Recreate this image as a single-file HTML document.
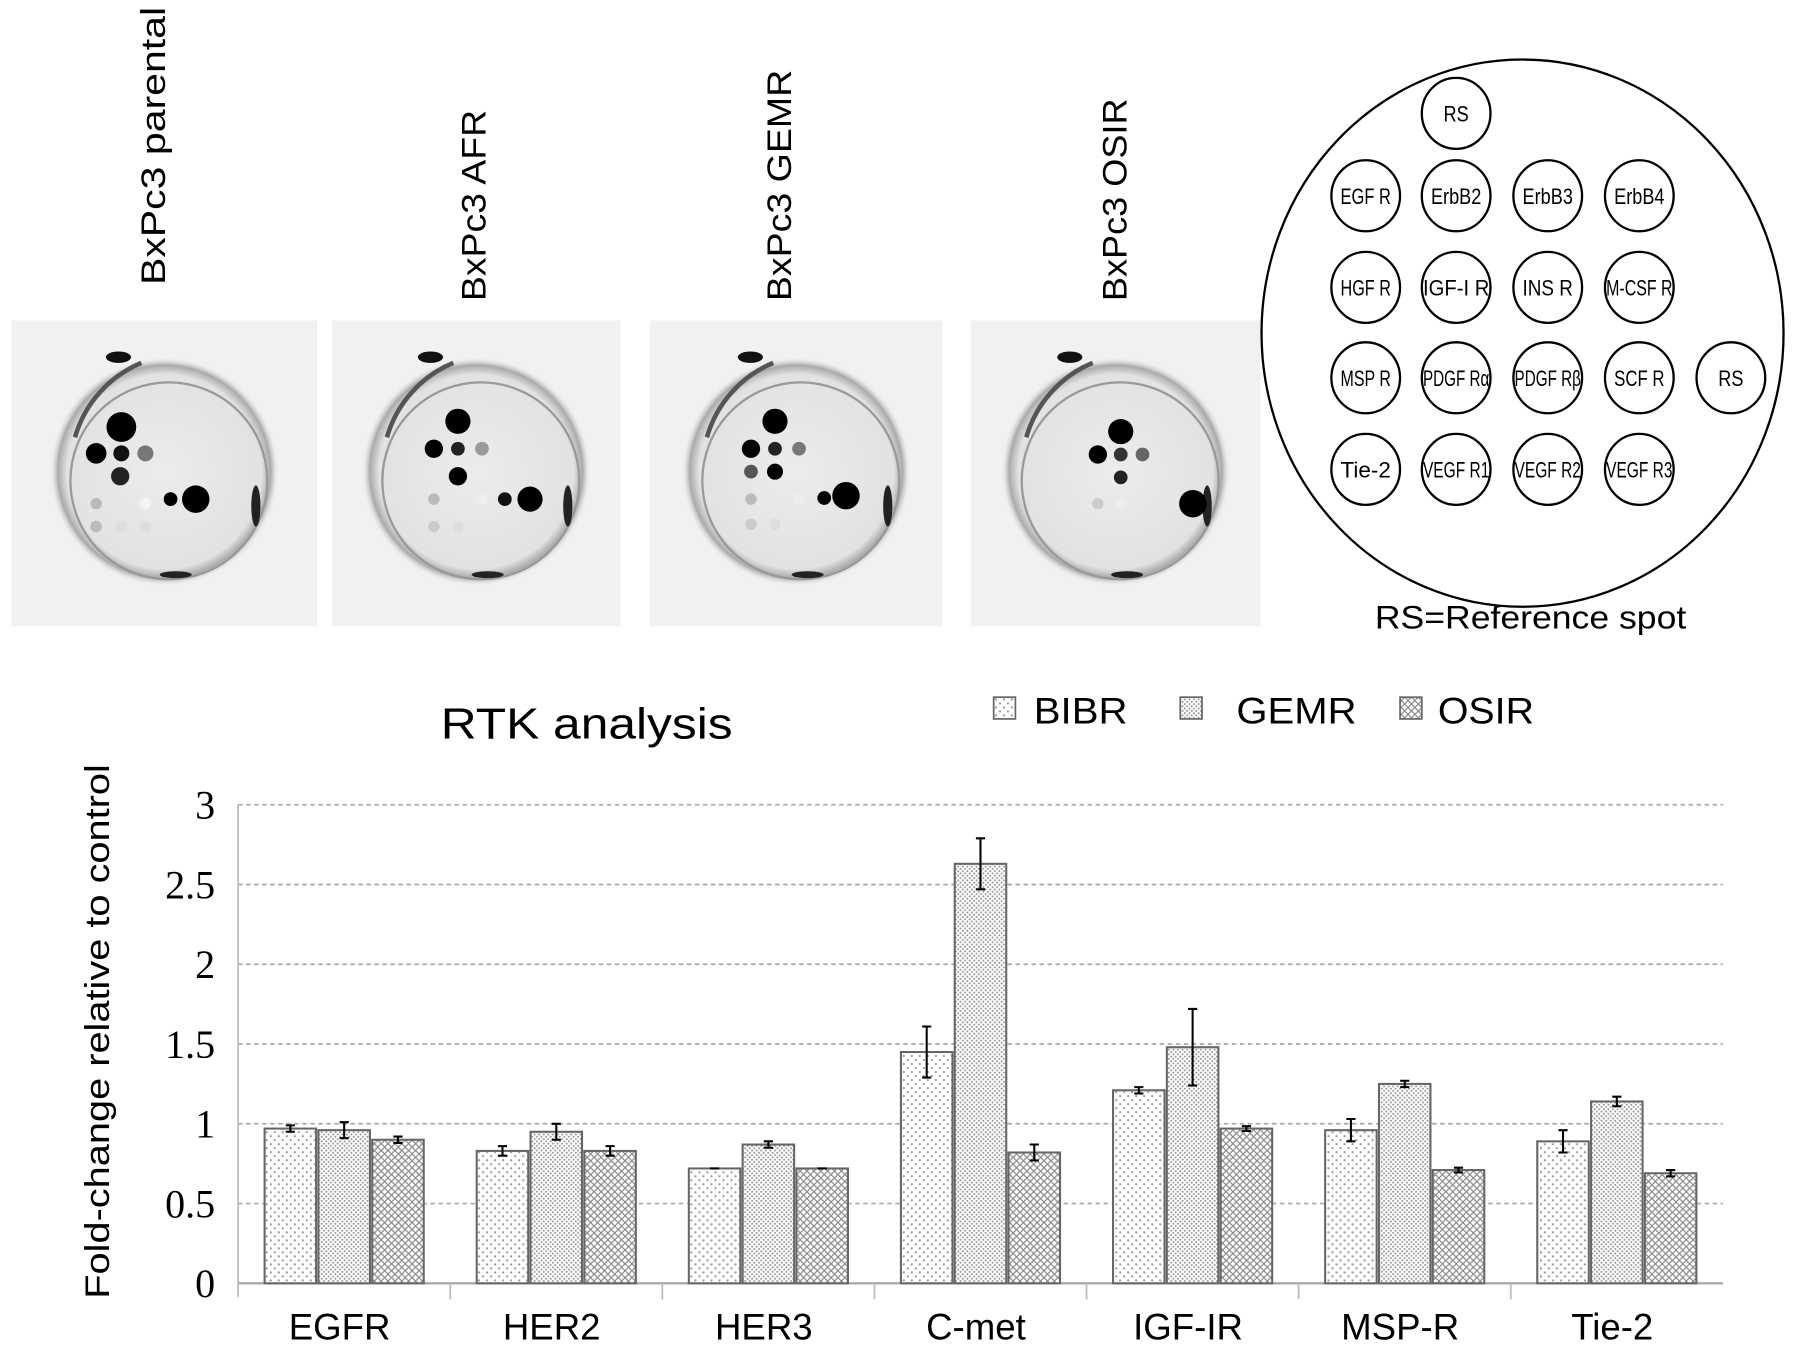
<!DOCTYPE html>
<html><head><meta charset="utf-8"><style>
html,body{margin:0;padding:0;background:#fff;}
svg{display:block;font-family:"Liberation Sans",sans-serif;}
</style></head><body>
<svg id="fig" width="1795" height="1352" viewBox="0 0 1568 1181" xmlns="http://www.w3.org/2000/svg">
<defs>
<pattern id="p1" width="7" height="7" patternUnits="userSpaceOnUse"><rect width="7" height="7" fill="#fff"/><circle cx="2" cy="2" r="1" fill="#999"/><circle cx="5.5" cy="5.5" r="1" fill="#999"/></pattern>
<pattern id="p2" width="4" height="4" patternUnits="userSpaceOnUse"><rect width="4" height="4" fill="#fff"/><circle cx="1" cy="1" r="0.9" fill="#999"/><circle cx="3" cy="3" r="0.9" fill="#999"/></pattern>
<pattern id="p3" width="6" height="6" patternUnits="userSpaceOnUse"><rect width="6" height="6" fill="#fff"/><path d="M0 0L6 6M6 0L0 6" stroke="#888" stroke-width="1"/></pattern>
<radialGradient id="dish" cx="50%" cy="50%" r="50%"><stop offset="0" stop-color="#ececec"/><stop offset="0.85" stop-color="#e2e2e2"/><stop offset="0.93" stop-color="#aaa"/><stop offset="1" stop-color="#eee" stop-opacity="0"/></radialGradient>
</defs>
<g id="blots"></g>
<g id="labels" font-size="30">
<text transform="translate(144,249) rotate(-90)" textLength="243" lengthAdjust="spacingAndGlyphs">BxPc3 parental</text>
<text transform="translate(424,263) rotate(-90)" textLength="167" lengthAdjust="spacingAndGlyphs">BxPc3 AFR</text>
<text transform="translate(691,263) rotate(-90)" textLength="202" lengthAdjust="spacingAndGlyphs">BxPc3 GEMR</text>
<text transform="translate(984,263) rotate(-90)" textLength="177" lengthAdjust="spacingAndGlyphs">BxPc3 OSIR</text>
</g>
<g id="map">
<ellipse cx="1330" cy="291" rx="228" ry="239" fill="none" stroke="#000" stroke-width="2"/>
</g>
<text x="1337" y="549" font-size="28" text-anchor="middle" textLength="272" lengthAdjust="spacingAndGlyphs">RS=Reference spot</text>
<text x="385" y="645" font-size="38" textLength="255" lengthAdjust="spacingAndGlyphs">RTK analysis</text>
<g id="legend"></g>
<g id="chart"></g>
<text transform="translate(95,901) rotate(-90)" font-size="30" text-anchor="middle" textLength="467" lengthAdjust="spacingAndGlyphs">Fold-change relative to control</text>
</svg>
<script>
var categories=["EGFR","HER2","HER3","C-met","IGF-IR","MSP-R","Tie-2"];
var seriesNames=["BIBR","GEMR","OSIR"];
var bibr=[0.97,0.83,0.72,1.45,1.21,0.96,0.89];
var gemr=[0.96,0.95,0.87,2.63,1.48,1.25,1.14];
var osir=[0.90,0.83,0.72,0.82,0.97,0.71,0.69];
var bibrErr=[0.02,0.03,0.0,0.16,0.02,0.07,0.07];
var gemrErr=[0.05,0.05,0.02,0.16,0.24,0.02,0.03];
var osirErr=[0.02,0.03,0.0,0.05,0.015,0.015,0.02];
var yTicks=["0","0.5","1","1.5","2","2.5","3"];

var NS="http://www.w3.org/2000/svg";
function mk(tag,attrs,parent){var e=document.createElementNS(NS,tag);for(var k in attrs)e.setAttribute(k,attrs[k]);parent.appendChild(e);return e;}
var X0=208,X1=1505,Y0=1121,Y3=703;
function yS(v){return Y0-(v/3)*(Y0-Y3);}
var bw=(X1-X0)/categories.length;
function xS(i){return X0+bw*i;}
var chart=document.getElementById('chart');
yTicks.forEach(function(t){
  var v=parseFloat(t),y=yS(v);
  if(v>0){var g=mk('line',{x1:X0,x2:X1,y1:y,y2:y,stroke:'#aaa','stroke-width':1.5,'stroke-dasharray':'4 3'},chart);
  
  }
  var tx=mk('text',{x:188,y:y+12,'font-size':35,'text-anchor':'end','font-family':'Liberation Serif, serif'},chart);
  tx.textContent=t;
  
  
});
var ax=mk('line',{x1:X0,x2:X0,y1:Y3,y2:Y0+12,stroke:'#bbb','stroke-width':1.5},chart);


var xa=mk('line',{x1:X0,x2:X1,y1:Y0,y2:Y0,stroke:'#aaa','stroke-width':2},chart);


var series=[bibr,gemr,osir],errs=[bibrErr,gemrErr,osirErr],pats=['url(#p1)','url(#p2)','url(#p3)'];
categories.forEach(function(c,i){
  if(i>0){var tk=mk('line',{x1:xS(i),x2:xS(i),y1:Y0,y2:Y0+14,stroke:'#bbb','stroke-width':1.5},chart);
  
  }
  var lb=mk('text',{x:xS(i)+bw/2-4,y:1170,'font-size':32,'text-anchor':'middle'},chart);
  lb.textContent=c;
  
  
  var w=45,gap=2,start=xS(i)+bw/2-(3*w+2*gap)/2;
  series.forEach(function(s,j){
    var x=start+j*(w+gap),y=yS(s[i]);
    var r=mk('rect',{x:x,y:y,width:w,height:Y0-y,fill:pats[j],stroke:'#666','stroke-width':1.8},chart);
    
    
    var e=errs[j][i],cx=x+w/2,yt=yS(s[i]+e),yb=yS(s[i]-e);
    var eb=mk('path',{d:'M'+(cx-4)+' '+yt+'H'+(cx+4)+'M'+cx+' '+yt+'V'+yb+'M'+(cx-4)+' '+yb+'H'+(cx+4),stroke:'#000','stroke-width':1.8,fill:'none'},chart);
    
    
  });
});
var lg=document.getElementById('legend');
var lx=[[868,903,82],[1031,1080,105],[1223,1256,84]];
seriesNames.forEach(function(n,j){
  var b=mk('rect',{x:lx[j][0],y:609,width:19,height:19,fill:pats[j],stroke:'#666','stroke-width':1.5},lg);
  
  
  var t=mk('text',{x:lx[j][1],y:632,'font-size':32,textLength:lx[j][2],lengthAdjust:'spacingAndGlyphs'},lg);
  t.textContent=n;
  
  
});
var map=document.getElementById('map');
var spots=[["RS",1272,99],["EGF R",1193,171],["ErbB2",1272,171],["ErbB3",1352,171],["ErbB4",1432,171],
["HGF R",1193,251],["IGF-I R",1272,251],["INS R",1352,251],["M-CSF R",1432,251],
["MSP R",1193,330],["PDGF Rα",1272,330],["PDGF Rβ",1352,330],["SCF R",1432,330],["RS",1512,330],
["Tie-2",1193,410],["VEGF R1",1272,410],["VEGF R2",1352,410],["VEGF R3",1432,410]];
spots.forEach(function(s){
  var e=mk('ellipse',{cx:s[1],cy:s[2],rx:30,ry:31,fill:'#fff',stroke:'#000','stroke-width':2},map);
  
  
  var len=s[0].length>5?58:(s[0].length>2?44:22);
  var t=mk('text',{x:s[1],y:s[2]+7,'font-size':19,'text-anchor':'middle',textLength:len,lengthAdjust:'spacingAndGlyphs'},map);
  t.textContent=s[0];
  
  
});
var bl=document.getElementById('blots');
var boxes=[[10,277],[290,542],[568,823],[848,1101]];
var dots=[
 [[96,93,13,'#000'],[74,116,9,'#000'],[96,116,7,'#111'],[117,116,7,'#777'],[95,136,8,'#222'],[139,156,6,'#000'],[161,156,12,'#000'],[74,160,5,'#bbb'],[117,160,5,'#f4f4f4'],[74,180,5,'#bbb'],[96,180,5,'#ddd'],[117,180,5,'#ddd']],
 [[110,88,11,'#000'],[89,112,8,'#000'],[110,112,6,'#222'],[131,112,6,'#999'],[110,136,8,'#000'],[151,156,6,'#111'],[173,156,11,'#000'],[89,156,5,'#bbb'],[131,156,5,'#eee'],[89,180,5,'#ccc'],[110,180,5,'#ddd']],
 [[109,88,11,'#000'],[88,112,8,'#000'],[109,112,6,'#222'],[130,112,6,'#777'],[88,132,6,'#555'],[109,132,7,'#000'],[152,155,6,'#000'],[171,153,12,'#000'],[88,156,5,'#bbb'],[130,156,5,'#eee'],[88,178,5,'#ccc'],[109,178,5,'#ddd']],
 [[131,97,11,'#000'],[111,117,8,'#000'],[131,117,6,'#333'],[150,117,6,'#666'],[131,137,6,'#222'],[194,160,12,'#000'],[111,160,5,'#ccc'],[131,160,5,'#eee']]
];
boxes.forEach(function(b,i){
  var g=mk('g',{},bl);
  
  
  mk('rect',{x:b[0],y:280,width:b[1]-b[0],height:267,fill:'#f1f1f1'},g);
  var cx=b[0]+(b[1]-b[0])/2,cy=412;
  mk('circle',{cx:cx,cy:cy,r:100,fill:'url(#dish)'},g);
  mk('circle',{cx:cx+4,cy:cy+8,r:86,fill:'none',stroke:'#999','stroke-width':2},g);
  mk('path',{d:'M'+(cx-78)+' '+(cy-30)+'A100 100 0 0 1 '+(cx-20)+' '+(cy-95),stroke:'#555','stroke-width':4,fill:'none'},g);
  mk('ellipse',{cx:cx-40,cy:cy-100,rx:11,ry:5,fill:'#111'},g);
  mk('ellipse',{cx:cx+80,cy:cy+30,rx:4,ry:18,fill:'#222'},g);
  mk('ellipse',{cx:cx+10,cy:cy+90,rx:14,ry:3,fill:'#222'},g);
  dots[i].forEach(function(d){mk('circle',{cx:b[0]+d[0],cy:280+d[1],r:d[2],fill:d[3]},g);});
});
</script>
</body></html>
